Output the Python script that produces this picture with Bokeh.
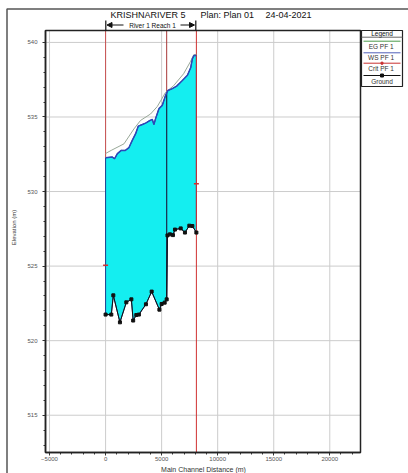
import numpy as np
from bokeh.plotting import figure
from bokeh.models import (Range1d, SingleIntervalTicker, Label, PolyAnnotation, Arrow, NormalHead,
                          LinearAxis, BoxAnnotation)
from bokeh.embed import file_html
from bokeh.resources import INLINE

# ---- data ----
ground_x = [0, 510, 690, 1280, 1850, 2300, 2460, 2740, 2970, 3600, 4110, 4800, 5000, 5270,
            5450, 5520, 5740, 6010, 6190, 6700, 7080, 7470, 7740, 8100]
ground_y = [521.75, 521.75, 523.04, 521.23, 522.57, 522.77, 521.35, 521.72, 521.75, 522.44,
            523.29, 522.08, 522.46, 522.55, 522.77, 527.06, 527.13, 527.08, 527.45, 527.53,
            527.25, 527.71, 527.69, 527.25]
ws_x = [0, 600, 800, 1050, 1400, 1760, 2080, 2380, 2680, 2920, 3280, 3570, 3870, 4170, 4310,
        4460, 4760, 5060, 5350, 5560, 5950, 6340, 6850, 7300, 7590, 7740, 7890, 8100]
ws_y = [532.27, 532.31, 532.20, 532.54, 532.76, 532.76, 532.94, 533.43, 533.88, 534.39, 534.50,
        534.59, 534.73, 534.84, 534.50, 534.89, 535.56, 535.78, 536.45, 536.78, 536.90, 537.07,
        537.45, 537.80, 538.30, 538.90, 539.13, 539.13]
eg_x = [0, 500, 1640, 2530, 3120, 4010, 4610, 5350, 6070, 6960, 7560, 7860, 8100]
eg_y = [532.55, 532.76, 533.2, 534.2, 534.77, 535.2, 535.7, 536.65, 537.1, 537.9, 538.7, 539.17, 539.2]
crit_x = [0, 8100]
crit_y = [525.05, 530.53]
struct_x = [0, 5450, 8100]
x_ticks = [-5000, 0, 5000, 10000, 15000, 20000]
y_ticks = [515, 520, 525, 530, 535, 540]

title_parts = ["KRISHNARIVER 5", "Plan: Plan 01", "24-04-2021"]
reach_label = "River 1 Reach 1"
legend_labels = ["EG  PF 1", "WS  PF 1", "Crit  PF 1", "Ground"]

FONT = "Liberation Sans"
W, H = 408, 473
FX0, FX1, FY0, FY1 = 45, 360, 30, 452      # plot box on the page (px)
XS, XE = -5360, 22740
YB, YT = 512.5, 540.8


def X(px):
    return XS + (px - FX0) * (XE - XS) / (FX1 - FX0)


def Y(py):
    return YT - (py - FY0) * (YT - YB) / (FY1 - FY0)


p = figure(width=W, height=H, x_range=Range1d(X(0), X(W)), y_range=Range1d(Y(H), Y(0)),
           output_backend="svg", toolbar_location=None, min_border=0,
           x_axis_location=None, y_axis_location=None)
p.outline_line_color = None
for g in p.grid:
    g.visible = False

xt = SingleIntervalTicker(interval=5000, num_minor_ticks=5)
yt = SingleIntervalTicker(interval=5, num_minor_ticks=5)
xaxis = LinearAxis(ticker=xt, fixed_location=YB, bounds=(XS, XE))
yaxis = LinearAxis(ticker=yt, fixed_location=XS, bounds=(YB, YT))
for ax in (xaxis, yaxis):
    ax.major_label_text_font_size = "6px"
    ax.major_label_text_font = FONT
    ax.major_label_text_color = "#555555"
    ax.major_tick_out = 3
    ax.major_tick_in = 0
    ax.minor_tick_out = 2
    ax.minor_tick_in = 0
    ax.axis_line_color = "#222222"
    ax.axis_line_width = 1.5
    ax.major_tick_line_color = "#333333"
    ax.minor_tick_line_color = "#333333"
xaxis.major_label_standoff = 1
yaxis.major_label_standoff = 5
p.add_layout(xaxis, "below")
p.add_layout(yaxis, "left")

# grid lines
p.segment(x0=x_ticks, y0=[YB] * len(x_ticks), x1=x_ticks, y1=[YT] * len(x_ticks),
          line_color="#cccccc", line_width=1)
p.segment(x0=[XS] * len(y_ticks), y0=y_ticks, x1=[XE] * len(y_ticks), y1=y_ticks,
          line_color="#cccccc", line_width=1)

# water between ground and WS
p.patch(ws_x + ground_x[::-1], ws_y + ground_y[::-1], fill_color="#14eef0",
        line_color="#1c3f8f", line_width=1)

ws_at = np.interp(struct_x, ws_x, ws_y)
gr_at = np.interp(struct_x, ground_x, ground_y)
red_bottom = [ws_at[0], ws_at[1], YB]
p.segment(x0=struct_x, y0=red_bottom, x1=struct_x, y1=[YT] * 3,
          line_color=["#c85050", "#a83838", "#d03030"], line_width=1)
p.segment(x0=[struct_x[1]], y0=[gr_at[1]], x1=[struct_x[1]], y1=[ws_at[1]],
          line_color="#1a2a4a", line_width=1.2)

p.line(eg_x, eg_y, line_color="#98a898", line_width=1)
p.line(ws_x, ws_y, line_color="#2c48b8", line_width=1.5)
p.line(ground_x, ground_y, line_color="#111111", line_width=1)
p.scatter(ground_x, ground_y, marker="square", size=3, color="#111111")
p.scatter(crit_x, crit_y, marker="dash", size=5, line_color="#d03030", line_width=1.5)

# plot box
p.add_layout(BoxAnnotation(left=XS, right=XE, bottom=YB, top=YT, fill_alpha=0,
                           line_color="#222222", line_width=1.5, line_alpha=1))


def poly(pxs, pys, color="#111111", width=1.0, fill=None):
    ann = PolyAnnotation(xs=[X(v) for v in pxs], ys=[Y(v) for v in pys],
                         line_color=color, line_width=width, line_alpha=1,
                         fill_color=fill if fill else "white", fill_alpha=1 if fill else 0)
    p.add_layout(ann)


def seg(x1, y1, x2, y2, color="#111111", width=1.0):
    poly([x1, x2], [y1, y2], color=color, width=width)


def lab(px, py, text, size="7px", align="center", angle=0, color="#111111"):
    p.add_layout(Label(x=X(px), y=Y(py), text=text, text_font=FONT, text_font_size=size,
                       text_align=align, text_baseline="middle", angle=angle, text_color=color))


# outer frame
poly([6.5, 700, 700, 6.5], [8.5, 8.5, 900, 900], color="#555555", width=1.5)

# title
lab(110, 14.5, title_parts[0], size="9px", align="left")
lab(200, 14.5, title_parts[1], size="9px", align="left")
lab(265, 14.5, title_parts[2], size="9px", align="left")

# reach annotation
lab(152, 24.5, reach_label, size="6.5px")
p.add_layout(Arrow(x_start=X(123), y_start=Y(24.5), x_end=X(106.5), y_end=Y(24.5),
                   line_width=1, line_color="#111111",
                   end=NormalHead(size=5, fill_color="#111111", line_color="#111111")))
p.add_layout(Arrow(x_start=X(180), y_start=Y(24.5), x_end=X(194), y_end=Y(24.5),
                   line_width=1, line_color="#111111",
                   end=NormalHead(size=5, fill_color="#111111", line_color="#111111")))
seg(105.3, 20, 105.3, 30, width=1.2)
seg(195.3, 20, 195.3, 30, width=1.2)

# axis titles
lab(13, 227, "Elevation (m)", size="6px", angle=np.pi / 2, color="#333333")
lab(203, 469, "Main Channel Distance (m)", size="7px", color="#333333")

# legend
poly([361, 402, 402, 361], [30, 30, 86, 86], color="#222222", width=1.2, fill="white")
lab(381.5, 33.3, "Legend", size="6.5px")
seg(361, 36.7, 402, 36.7, color="#666666", width=1)
leg_colors = ["#4a9a4a", "#5060b8", "#c83030", "#111111"]
leg_line_y = [40.7, 52.3, 62.7, 75]
leg_text_y = [46, 57.3, 68.3, 81]
for c, ly, ty, t in zip(leg_colors, leg_line_y, leg_text_y, legend_labels):
    seg(363, ly, 400, ly, color=c, width=1)
    lab(381.5, ty, t, size="6.5px", color="#333333")
poly([380.5, 382.5, 382.5, 380.5], [61.7, 61.7, 63.7, 63.7], color="#c83030", width=1, fill="#c83030")
poly([380, 383, 383, 380], [73.5, 73.5, 76.5, 76.5], color="#111111", width=1, fill="#111111")

open("out.html", "w").write(file_html(p, INLINE))
